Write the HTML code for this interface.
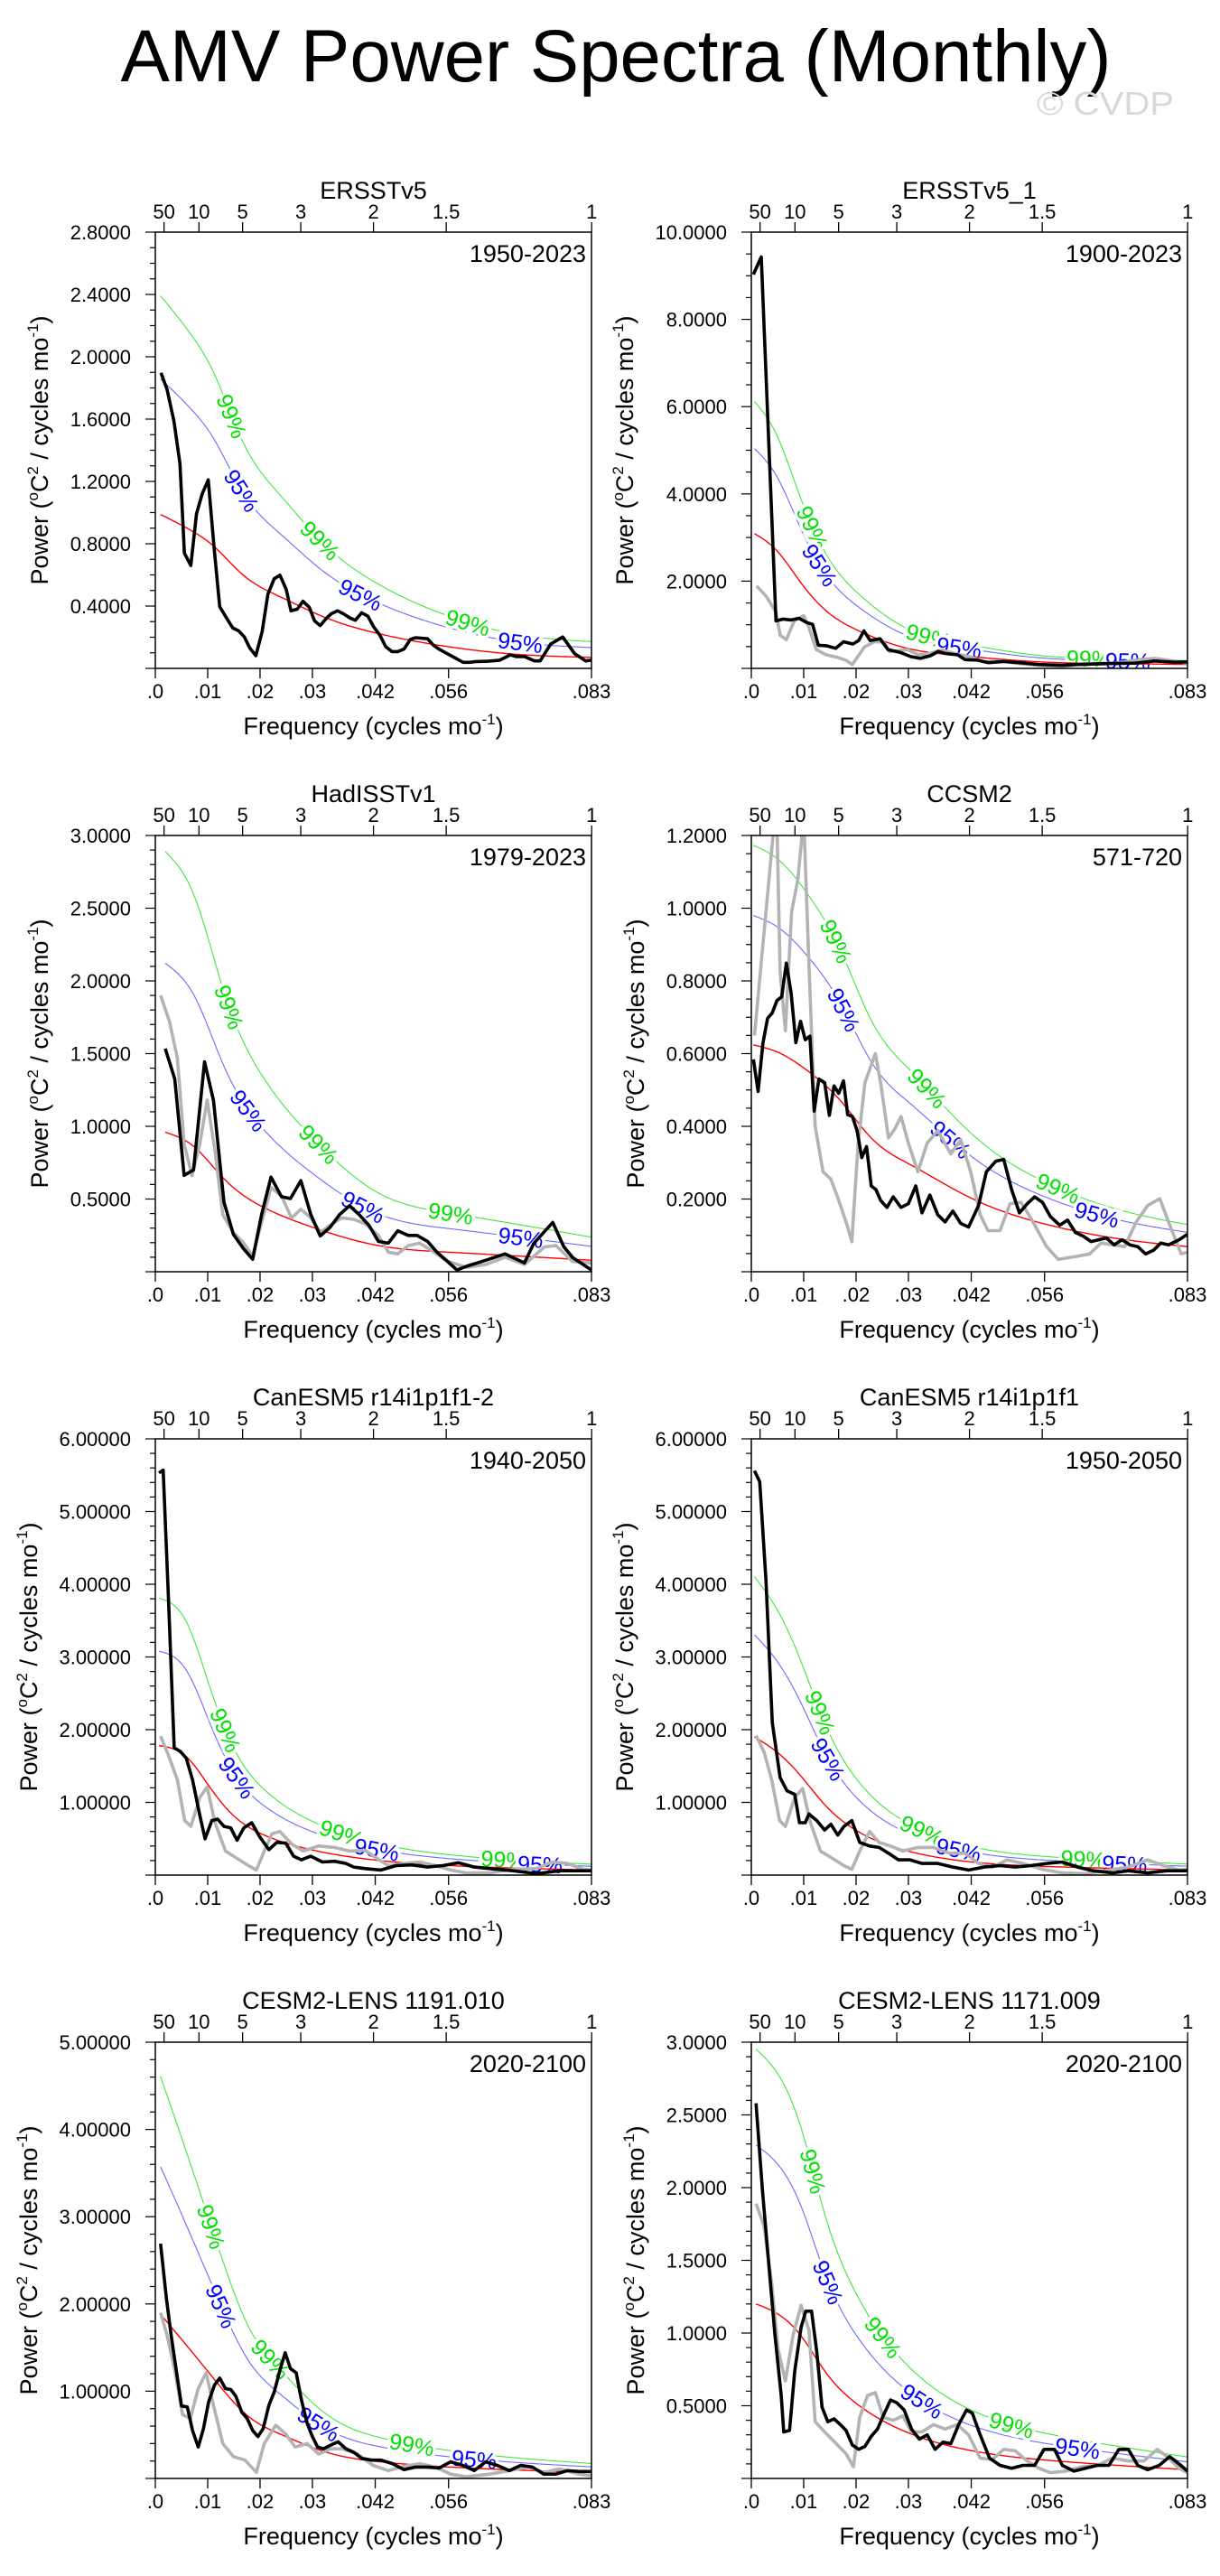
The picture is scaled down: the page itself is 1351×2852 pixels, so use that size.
<!DOCTYPE html>
<html><head><meta charset="utf-8"><title>AMV Power Spectra (Monthly)</title>
<style>
html,body{margin:0;padding:0;background:#fff;}
svg{display:block;font-family:"Liberation Sans",Arial,sans-serif;}
</style></head>
<body>
<svg id="fig" width="1351" height="2852" viewBox="0 0 1351 2852" xmlns="http://www.w3.org/2000/svg">
<rect x="0" y="0" width="1351" height="2852" fill="#fff"/>
<text x="682" y="90" font-size="82" text-anchor="middle" textLength="1097" lengthAdjust="spacingAndGlyphs">AMV Power Spectra (Monthly)</text>
<text x="1148" y="127" font-size="36" fill="#d8d8d8" textLength="152" lengthAdjust="spacingAndGlyphs">© CVDP</text>
</svg>
<script>
// ---------- shared axis data ----------
const xTickVals = [0, 0.01, 0.02, 0.03, 0.042, 0.056, 0.0833];
const xTickLabels = [".0", ".01", ".02", ".03", ".042", ".056", ".083"];
const periodVals = [50, 10, 5, 3, 2, 1.5, 1];
const periodLabels = ["50", "10", "5", "3", "2", "1.5", "1"];

// ---------- panel 1: ERSSTv5 ----------
const p1Black = [[.00108,1.897],[.00224,1.790],[.00355,1.588],[.0047,1.313],[.00555,.740],[.00678,.660],[.00786,.992],[.00894,1.118],[.0101,1.210],[.0112,.786],[.0123,.396],[.0136,.323],[.0148,.259],[.0159,.241],[.017,.202],[.018,.133],[.0192,.082],[.0204,.236],[.0215,.477],[.0227,.575],[.0238,.598],[.025,.506],[.0259,.369],[.0271,.380],[.0282,.431],[.0294,.392],[.0304,.305],[.0315,.275],[.0327,.323],[.0336,.351],[.0348,.369],[.0359,.351],[.0372,.323],[.0382,.309],[.0394,.357],[.0406,.335],[.0417,.266],[.0429,.213],[.044,.140],[.0452,.108],[.0463,.108],[.0475,.124],[.0487,.186],[.0497,.197],[.052,.190],[.0531,.149],[.0543,.121],[.0588,.039],[.0601,.039],[.0612,.044],[.0635,.046],[.0658,.053],[.0678,.087],[.0689,.076],[.0705,.076],[.0724,.048],[.0735,.048],[.0755,.156],[.0778,.202],[.0801,.094],[.0822,.048],[.0833,.053]];
const p1Gray = p1Black;
const p1Red = [[.001,.988],[.0072,.878],[.0111,.786],[.0165,.607],[.0242,.454],[.0319,.334],[.0419,.229],[.055,.144],[.0705,.087],[.0833,.071]];
const p1Conf = [1.88, 2.42];
const p1Lab99 = [.0146, .0315, .0597];
const p1Lab95 = [.0165, .0392, .0697];
const p1Y = [0, 2.8, 0.4, 4];

// ---------- panel 2: ERSSTv5_1 ----------
const p2Black = [[.0004,9.03],[.0019,9.43],[.0047,1.09],[.0061,1.13],[.0076,1.11],[.0091,1.15],[.0106,1.05],[.0117,1.01],[.0128,.53],[.0143,.52],[.0161,.46],[.0176,.61],[.0194,.56],[.0205,.64],[.0215,.86],[.0227,.64],[.0246,.68],[.0261,.43],[.0283,.37],[.0305,.27],[.0323,.23],[.0342,.29],[.0357,.39],[.0371,.34],[.0394,.31],[.0408,.20],[.0431,.19],[.0453,.13],[.0482,.16],[.0512,.13],[.0549,.09],[.0593,.07],[.0623,.09],[.0682,.11],[.0733,.12],[.077,.17],[.0807,.14],[.0833,.15]];
const p2Gray = [[.001,1.89],[.0028,1.66],[.0047,1.29],[.0055,.76],[.0067,.66],[.0082,1.09],[.010,1.21],[.0109,.97],[.0124,.43],[.0143,.31],[.0165,.25],[.018,.19],[.0193,.09],[.0216,.49],[.0235,.61],[.0253,.60],[.0264,.38],[.0298,.43],[.032,.31],[.0342,.35],[.0364,.42],[.0386,.35],[.0416,.27],[.0445,.15],[.0475,.17],[.0512,.11],[.0549,.07],[.0593,.04],[.0638,.11],[.0696,.12],[.0733,.19],[.077,.23],[.0807,.17],[.0833,.12]];
const p2Red = [[.0006,3.09],[.0047,2.72],[.0098,1.91],[.015,1.25],[.0209,.84],[.0298,.46],[.0401,.29],[.0549,.15],[.0696,.11],[.0833,.09]];
const p2Conf = [1.63, 1.98];
const p2Lab99 = [.0117, .0338, .0645];
const p2Lab95 = [.0131, .0397, .0719];
const p2Y = [0, 10, 2, 4];

// ---------- panel 3: HadISSTv1 ----------
const p3Black = [[.0019,1.534],[.0037,1.326],[.0055,.663],[.0073,.70],[.0094,1.444],[.0111,1.178],[.0131,.479],[.0149,.258],[.0168,.160],[.0186,.086],[.0203,.393],[.0221,.651],[.0241,.516],[.0258,.503],[.0278,.626],[.0297,.393],[.0315,.246],[.0334,.307],[.0352,.393],[.0371,.454],[.0389,.393],[.0408,.319],[.0426,.209],[.0445,.196],[.0463,.282],[.0483,.250],[.05,.250],[.052,.209],[.0538,.135],[.0557,.074],[.0576,.012],[.0594,.037],[.0631,.079],[.0668,.123],[.0705,.061],[.0723,.196],[.0759,.339],[.078,.172],[.0797,.098],[.0833,.012]];
const p3Gray = [[.001,1.90],[.0027,1.72],[.0042,1.47],[.0055,.88],[.007,.66],[.0085,.88],[.0099,1.18],[.0114,.83],[.0129,.39],[.0149,.27],[.0168,.20],[.0186,.11],[.0203,.34],[.0221,.58],[.0241,.52],[.026,.37],[.0278,.43],[.0297,.37],[.0315,.27],[.0334,.32],[.0356,.37],[.0379,.36],[.0401,.33],[.0426,.25],[.0445,.135],[.0463,.123],[.0483,.18],[.0505,.196],[.0527,.147],[.0557,.074],[.0594,.03],[.0631,.05],[.0668,.10],[.0705,.05],[.0743,.17],[.0765,.18],[.0797,.07],[.0833,.06]];
const p3Red = [[.0019,.96],[.0074,.86],[.0131,.64],[.0203,.45],[.0297,.31],[.0426,.18],[.0557,.135],[.0833,.079]];
const p3Conf = [2.21, 3.01];
const p3Lab99 = [.0141, .0312, .0564];
const p3Lab95 = [.0178, .0397, .0698];
const p3Y = [0, 3, 0.5, 5];

// ---------- panel 4: CCSM2 ----------
const p4Black = [[.0004,.584],[.0013,.496],[.0022,.628],[.0031,.697],[.004,.712],[.0049,.746],[.0058,.756],[.0067,.849],[.0076,.766],[.0085,.630],[.0094,.689],[.0103,.638],[.0112,.648],[.012,.442],[.0129,.530],[.014,.52],[.0149,.43],[.0158,.511],[.0167,.491],[.0176,.525],[.0184,.432],[.0193,.427],[.0202,.388],[.0211,.314],[.022,.344],[.0229,.236],[.0238,.226],[.0247,.196],[.0259,.177],[.0271,.206],[.0286,.177],[.03,.187],[.0314,.236],[.0326,.162],[.0341,.211],[.0356,.157],[.037,.137],[.0385,.167],[.04,.133],[.0415,.123],[.0434,.182],[.0449,.275],[.0467,.304],[.0482,.309],[.0497,.226],[.0512,.162],[.0527,.187],[.0541,.206],[.0556,.191],[.0571,.152],[.0589,.128],[.0604,.142],[.0619,.108],[.0634,.098],[.0649,.083],[.0663,.088],[.0678,.093],[.0693,.074],[.0708,.088],[.0723,.074],[.0738,.069],[.0753,.049],[.0768,.059],[.0782,.079],[.0797,.074],[.0817,.088],[.0833,.103]];
const p4Gray = [[.0006,.65],[.0048,1.3],[.0055,.825],[.0065,.663],[.0077,.99],[.0089,1.08],[.0100,1.25],[.011,.845],[.0122,.40],[.0137,.275],[.0152,.255],[.0167,.196],[.0181,.137],[.0192,.083],[.0204,.354],[.0217,.52],[.0237,.60],[.0248,.51],[.0262,.368],[.0274,.393],[.0286,.427],[.03,.354],[.0318,.275],[.0336,.354],[.0356,.388],[.0381,.324],[.04,.363],[.0419,.275],[.0437,.157],[.0452,.113],[.0475,.113],[.0494,.187],[.0515,.191],[.0534,.147],[.0564,.069],[.0586,.034],[.0616,.041],[.0646,.049],[.0668,.079],[.069,.074],[.0713,.069],[.0735,.137],[.0757,.182],[.078,.201],[.0802,.118],[.0821,.049],[.0833,.054]];
const p4Red = [[.0004,.624],[.005,.604],[.011,.55],[.017,.471],[.0229,.368],[.0303,.295],[.0422,.201],[.0556,.133],[.0705,.090],[.0833,.069]];
const p4Conf = [1.57, 1.88];
const p4Lab99 = [.0162, .0336, .0586];
const p4Lab95 = [.0177, .0381, .066];
const p4Y = [0, 1.2, 0.2, 4];

// ---------- panel 5: CanESM5 r14i1p1f1-2 ----------
const p5Black = [[.0007,5.53],[.0015,5.57],[.0025,3.82],[.0036,1.75],[.0048,1.70],[.0059,1.61],[.0071,1.31],[.0085,.82],[.0095,.50],[.0108,.75],[.0119,.77],[.0131,.67],[.0144,.65],[.0156,.48],[.0169,.65],[.0184,.72],[.0199,.53],[.0217,.35],[.0232,.45],[.0249,.44],[.0264,.26],[.0279,.21],[.0297,.26],[.0319,.18],[.0342,.19],[.0364,.16],[.0379,.11],[.0401,.09],[.0431,.07],[.046,.13],[.049,.14],[.052,.11],[.0549,.13],[.0579,.17],[.0609,.11],[.0639,.09],[.0683,.06],[.0728,.02],[.0772,.06],[.0809,.06],[.0833,.06]];
const p5Gray = [[.001,1.91],[.0025,1.65],[.0042,1.31],[.0056,.75],[.0068,.67],[.0085,1.07],[.0099,1.21],[.0114,.72],[.0134,.33],[.0156,.23],[.0178,.13],[.0193,.07],[.0208,.33],[.0223,.57],[.0238,.60],[.026,.43],[.0282,.33],[.0312,.40],[.0342,.38],[.0371,.33],[.0401,.34],[.0423,.23],[.0445,.13],[.0475,.16],[.0505,.18],[.0535,.13],[.0564,.07],[.0594,.03],[.0639,.03],[.0683,.08],[.0728,.09],[.0757,.18],[.0787,.16],[.0817,.08],[.0833,.07]];
const p5Red = [[.0007,1.78],[.0059,1.63],[.0104,1.21],[.0149,.82],[.0208,.55],[.0297,.35],[.0416,.21],[.0564,.13],[.0833,.07]];
const p5Conf = [1.73, 2.14];
const p5Lab99 = [.0134, .0356, .0665];
const p5Lab95 = [.0156, .0423, .0735];
const p5Y = [0, 6, 1, 5];

// ---------- panel 6: CanESM5 r14i1p1f1 ----------
const p6Black = [[.0006,5.56],[.0016,5.41],[.0028,4.06],[.004,2.10],[.0055,1.34],[.0068,1.16],[.0083,1.11],[.0092,.72],[.0103,.72],[.011,.84],[.0125,.75],[.014,.62],[.0152,.70],[.0165,.55],[.0177,.67],[.0192,.75],[.0207,.45],[.0226,.40],[.0244,.38],[.0262,.30],[.0281,.21],[.0303,.21],[.0326,.16],[.0356,.16],[.0385,.11],[.0415,.07],[.0445,.11],[.0475,.13],[.0504,.11],[.0534,.13],[.0564,.16],[.0594,.18],[.0623,.11],[.0653,.06],[.069,.03],[.072,.06],[.0757,.03],[.0794,.06],[.0833,.06]];
const p6Gray = [[.0009,1.92],[.0024,1.70],[.0039,1.31],[.0054,.75],[.0065,.67],[.0083,1.07],[.0098,1.19],[.0113,.72],[.0132,.33],[.0155,.23],[.0177,.13],[.0192,.08],[.0207,.33],[.0226,.60],[.0244,.45],[.0266,.40],[.0289,.33],[.0318,.38],[.0348,.38],[.0378,.30],[.0408,.30],[.0434,.16],[.046,.11],[.0489,.21],[.0519,.16],[.0556,.08],[.0594,.03],[.0638,.02],[.0683,.07],[.072,.11],[.0757,.21],[.0787,.13],[.0817,.07],[.0833,.08]];
const p6Red = [[.0006,1.90],[.0051,1.68],[.0095,1.36],[.014,.97],[.0199,.62],[.0289,.35],[.0422,.18],[.0601,.11],[.0833,.07]];
const p6Conf = [1.74, 2.16];
const p6Lab99 = [.0132, .0326, .0634];
const p6Lab95 = [.0147, .0396, .0713];
const p6Y = [0, 6, 1, 5];

// ---------- panel 7: CESM2-LENS 1191.010 ----------
const p7Black = [[.001,2.69],[.0021,2.07],[.003,1.65],[.004,1.24],[.005,.83],[.0061,.82],[.0071,.55],[.0082,.36],[.0092,.57],[.0102,.88],[.0113,1.07],[.0123,1.15],[.0134,1.03],[.0144,1.02],[.0154,.94],[.0165,.76],[.0175,.69],[.0186,.55],[.0196,.48],[.0206,.57],[.0217,.84],[.0227,.99],[.0238,1.24],[.0248,1.44],[.0258,1.26],[.0269,1.21],[.0279,.90],[.029,.63],[.03,.48],[.031,.36],[.0321,.34],[.0334,.38],[.0349,.42],[.0364,.34],[.0379,.30],[.0394,.23],[.0413,.21],[.0431,.21],[.0453,.17],[.0475,.10],[.0497,.13],[.052,.13],[.0542,.12],[.0564,.19],[.0587,.15],[.0609,.09],[.0631,.19],[.0653,.15],[.0676,.09],[.0698,.15],[.072,.13],[.0742,.05],[.0765,.05],[.0787,.09],[.0809,.08],[.0833,.08]];
const p7Gray = [[.001,1.90],[.0022,1.65],[.0037,1.24],[.0052,.73],[.0067,.69],[.0082,1.03],[.0097,1.21],[.0111,.84],[.0129,.40],[.0149,.25],[.0171,.21],[.0193,.07],[.0208,.40],[.023,.61],[.0249,.51],[.0267,.36],[.029,.40],[.0312,.28],[.0334,.34],[.0356,.34],[.0386,.28],[.0416,.15],[.0445,.09],[.0475,.14],[.0505,.17],[.0535,.13],[.0564,.05],[.0594,.02],[.0639,.05],[.0676,.09],[.0713,.13],[.0742,.07],[.0772,.11],[.0809,.05],[.0833,.03]];
const p7Red = [[.001,1.88],[.0059,1.53],[.0119,1.09],[.0178,.71],[.0238,.51],[.0327,.30],[.0431,.19],[.0564,.13],[.0833,.07]];
const p7Conf = [1.90, 2.45];
const p7Lab99 = [.0107, .022, .049];
const p7Lab95 = [.0126, .0312, .0609];
const p7Y = [0, 5, 1, 5];

// ---------- panel 8: CESM2-LENS 1171.009 ----------
const p8Black = [[.0009,2.58],[.0021,1.99],[.0033,1.49],[.0045,.99],[.0057,.57],[.0062,.32],[.0073,.33],[.0083,.74],[.0095,1.04],[.0104,1.15],[.0115,1.15],[.0125,.87],[.0135,.49],[.0146,.39],[.0158,.41],[.017,.37],[.0181,.33],[.0193,.23],[.0205,.20],[.0217,.22],[.0229,.29],[.0241,.34],[.0253,.44],[.0266,.54],[.0278,.52],[.0292,.47],[.0306,.34],[.0321,.27],[.0336,.30],[.0351,.20],[.0366,.25],[.0381,.24],[.0396,.37],[.0411,.47],[.0422,.45],[.0437,.30],[.0455,.14],[.0475,.09],[.0497,.07],[.0519,.09],[.0541,.09],[.0559,.20],[.0579,.20],[.0594,.09],[.0616,.05],[.0638,.07],[.0661,.09],[.0683,.09],[.0702,.20],[.072,.20],[.0738,.09],[.0757,.06],[.0779,.09],[.0799,.15],[.0817,.10],[.0833,.05]];
const p8Gray = [[.0009,1.89],[.0024,1.74],[.0039,1.34],[.0051,.89],[.0065,.67],[.008,.99],[.0095,1.19],[.011,1.02],[.0122,.39],[.014,.32],[.0162,.24],[.0181,.17],[.0195,.08],[.0207,.42],[.0222,.57],[.0237,.59],[.0252,.42],[.0271,.40],[.0289,.43],[.0306,.32],[.0326,.32],[.0348,.37],[.037,.34],[.0393,.37],[.0415,.30],[.0437,.14],[.046,.13],[.0482,.20],[.0504,.19],[.0527,.12],[.0549,.07],[.0571,.04],[.0601,.05],[.0631,.08],[.0661,.09],[.069,.14],[.072,.12],[.075,.12],[.0775,.20],[.0794,.15],[.0817,.07],[.0833,.04]];
const p8Red = [[.0009,1.20],[.0051,1.13],[.0095,.98],[.014,.74],[.0199,.52],[.0289,.33],[.0422,.19],[.0601,.115],[.0833,.06]];
const p8Conf = [1.91, 2.46];
const p8Lab99 = [.0118, .0252, .0497];
const p8Lab95 = [.0147, .0326, .0623];
const p8Y = [0, 3, 0.5, 5];

const panelTitles = ["ERSSTv5","ERSSTv5_1","HadISSTv1","CCSM2","CanESM5 r14i1p1f1-2","CanESM5 r14i1p1f1","CESM2-LENS 1191.010","CESM2-LENS 1171.009"];
const panelYears = ["1950-2023","1900-2023","1979-2023","571-720","1940-2050","1950-2050","2020-2100","2020-2100"];
const panelDecimals = [4,4,4,4,5,5,5,4];

// ---------- rendering ----------
const NS = "http://www.w3.org/2000/svg";
const svg = document.getElementById("fig");
const FMAX = 0.0833;
const W = 483, H = 483;
const lefts = [172, 832];
const tops = [257, 925, 1593, 2261];

function mk(tag, attrs, parent) {
  const e = document.createElementNS(NS, tag);
  for (const k in attrs) e.setAttribute(k, attrs[k]);
  (parent || svg).appendChild(e);
  return e;
}

// natural cubic spline through points
function spline(pts) {
  const n = pts.length, x = pts.map(p => p[0]), y = pts.map(p => p[1]);
  const h = [], al = [0], l = [1], mu = [0], z = [0], c = new Array(n).fill(0), b = [], d = [];
  for (let i = 0; i < n - 1; i++) h.push(x[i+1] - x[i]);
  for (let i = 1; i < n - 1; i++) al.push(3/h[i]*(y[i+1]-y[i]) - 3/h[i-1]*(y[i]-y[i-1]));
  for (let i = 1; i < n - 1; i++) {
    l[i] = 2*(x[i+1]-x[i-1]) - h[i-1]*mu[i-1];
    mu[i] = h[i]/l[i];
    z[i] = (al[i] - h[i-1]*z[i-1])/l[i];
  }
  for (let j = n - 2; j >= 0; j--) {
    c[j] = (j === 0 ? 0 : z[j]) - (j === 0 ? 0 : mu[j]*c[j+1]);
    b[j] = (y[j+1]-y[j])/h[j] - h[j]*(c[j+1] + 2*c[j])/3;
    d[j] = (c[j+1]-c[j])/(3*h[j]);
  }
  return function (t) {
    let i = 0;
    if (t <= x[0]) i = 0; else { while (i < n - 2 && t > x[i+1]) i++; }
    const dx = t - x[i];
    return y[i] + b[i]*dx + c[i]*dx*dx + d[i]*dx*dx*dx;
  };
}

const allBlack = [p1Black,p2Black,p3Black,p4Black,p5Black,p6Black,p7Black,p8Black];
const allGray = [p1Gray,p2Gray,p3Gray,p4Gray,p5Gray,p6Gray,p7Gray,p8Gray];
const allRed = [p1Red,p2Red,p3Red,p4Red,p5Red,p6Red,p7Red,p8Red];
const allConf = [p1Conf,p2Conf,p3Conf,p4Conf,p5Conf,p6Conf,p7Conf,p8Conf];
const allLab99 = [p1Lab99,p2Lab99,p3Lab99,p4Lab99,p5Lab99,p6Lab99,p7Lab99,p8Lab99];
const allLab95 = [p1Lab95,p2Lab95,p3Lab95,p4Lab95,p5Lab95,p6Lab95,p7Lab95,p8Lab95];
const allY = [p1Y,p2Y,p3Y,p4Y,p5Y,p6Y,p7Y,p8Y];

for (let p = 0; p < 8; p++) {
  const L = lefts[p % 2], T = tops[Math.floor(p / 2)];
  const [ymin, ymax, major, nsub] = allY[p];
  const xs = f => L + (f / FMAX) * W;
  const ys = v => T + H - (v - ymin) / (ymax - ymin) * H;

  const g = mk("g", {});
  
  

  const clipId = "clip" + p;
  const cp = mk("clipPath", { id: clipId }, g);
  mk("rect", { x: L, y: T, width: W, height: H }, cp);

  const tt = mk("text", { x: L + W/2, y: T - 37, "font-size": 27, "text-anchor": "middle" }, g);
  tt.textContent = panelTitles[p];
  
  

  const yl = mk("text", { x: L + W - 6, y: T + 33, "font-size": 27, "text-anchor": "end" }, g);
  yl.textContent = panelYears[p];
  
  

  for (let i = 0; i < periodVals.length; i++) {
    const x = xs(1 / (12 * periodVals[i]));
    mk("line", { x1: x, y1: T, x2: x, y2: T - 11, stroke: "#000", "stroke-width": 1.3 }, g);
    const t = mk("text", { x: x, y: T - 15, "font-size": 22, "text-anchor": "middle" }, g);
    t.textContent = periodLabels[i];
    
    
  }
  for (let i = 0; i < xTickVals.length; i++) {
    const x = xs(xTickVals[i]);
    mk("line", { x1: x, y1: T + H, x2: x, y2: T + H + 11, stroke: "#000", "stroke-width": 1.3 }, g);
    const t = mk("text", { x: x, y: T + H + 33, "font-size": 22, "text-anchor": "middle" }, g);
    t.textContent = xTickLabels[i];
    
    
  }
  const minorStep = major / nsub;
  let maxLen = 0;
  for (let k = 0; k * minorStep <= ymax - ymin + 1e-9; k++) {
    const v = ymin + k * minorStep, y = ys(v);
    const isMajor = k % nsub === 0;
    mk("line", { x1: L, y1: y, x2: L - (isMajor ? 11 : 6), y2: y, stroke: "#000", "stroke-width": 1.2 }, g);
    if (isMajor && v > ymin + 1e-9) {
      const s = v.toFixed(panelDecimals[p]);
      maxLen = Math.max(maxLen, s.length);
      const t = mk("text", { x: L - 27, y: y + 8, "font-size": 22, "text-anchor": "end" }, g);
      t.textContent = s;
      
      
    }
  }
  const yx = L - 27 - maxLen * 11.7 - 31;
  const yc = T + H / 2;
  const yt = mk("text", { x: yx, y: yc, "font-size": 27, "text-anchor": "middle", transform: `rotate(-90 ${yx} ${yc})`, dy: 9 }, g);
  yt.innerHTML = 'Power (<tspan font-size="17" dy="-11">o</tspan><tspan dy="11">C</tspan><tspan font-size="17" dy="-11">2</tspan><tspan dy="11"> / cycles mo</tspan><tspan font-size="17" dy="-11">-1</tspan><tspan dy="11">)</tspan>';
  
  
  const xt = mk("text", { x: L + W/2, y: T + H + 73, "font-size": 27, "text-anchor": "middle" }, g);
  xt.innerHTML = 'Frequency (cycles mo<tspan font-size="17" dy="-11">-1</tspan><tspan dy="11">)</tspan>';
  
  

  const redF = spline(allRed[p]);
  const f0 = allRed[p][0][0];
  const samples = [];
  for (let i = 0; i <= 240; i++) samples.push(f0 + (FMAX - f0) * i / 240);
  const pathFor = fac => samples.map((f, i) => (i ? "L" : "M") + xs(f).toFixed(1) + "," + ys(redF(f) * fac).toFixed(1)).join(" ");
  const dg = mk("g", { "clip-path": `url(#${clipId})` }, g);

  const c99 = mk("path", { d: pathFor(allConf[p][1]), fill: "none", stroke: "#3ee83e", "stroke-width": 1.1 }, dg);
  
  
  const c95 = mk("path", { d: pathFor(allConf[p][0]), fill: "none", stroke: "#6a6aff", "stroke-width": 1.1 }, dg);
  
  

  const drawLabels = (arr, fac, txt, col, name) => {
    for (const f of arr) {
      const x = xs(f), y = ys(redF(f) * fac);
      const x2 = xs(f + 0.0008), y2 = ys(redF(f + 0.0008) * fac);
      const ang = Math.atan2(y2 - y, x2 - x) * 180 / Math.PI;
      const t = mk("text", { x: x, y: y, "font-size": 25, "text-anchor": "middle", dy: 9, fill: col, stroke: "#fff", "stroke-width": 7, "paint-order": "stroke", transform: `rotate(${ang.toFixed(1)} ${x.toFixed(1)} ${y.toFixed(1)})` }, dg);
      t.textContent = txt;
      
      
    }
  };
  drawLabels(allLab99[p], allConf[p][1], "99%", "#00e000", "label-99-percent");
  drawLabels(allLab95[p], allConf[p][0], "95%", "#0000ff", "label-95-percent");

  const rp = mk("path", { d: pathFor(1), fill: "none", stroke: "#ff0000", "stroke-width": 1.4 }, dg);
  
  

  const line = pts => pts.map((q, i) => (i ? "L" : "M") + xs(q[0]).toFixed(1) + "," + ys(q[1]).toFixed(1)).join(" ");
  if (allGray[p] !== allBlack[p]) {
    const gp = mk("path", { d: line(allGray[p]), fill: "none", stroke: "#b3b3b3", "stroke-width": 3.6, "stroke-linejoin": "round" }, dg);
    
    
  }
  const bp = mk("path", { d: line(allBlack[p]), fill: "none", stroke: "#000", "stroke-width": 3.6, "stroke-linejoin": "round" }, dg);
  
  

  const fr = mk("rect", { x: L, y: T, width: W, height: H, fill: "none", stroke: "#000", "stroke-width": 1.5 }, g);
  
  
}
</script>
</body></html>
